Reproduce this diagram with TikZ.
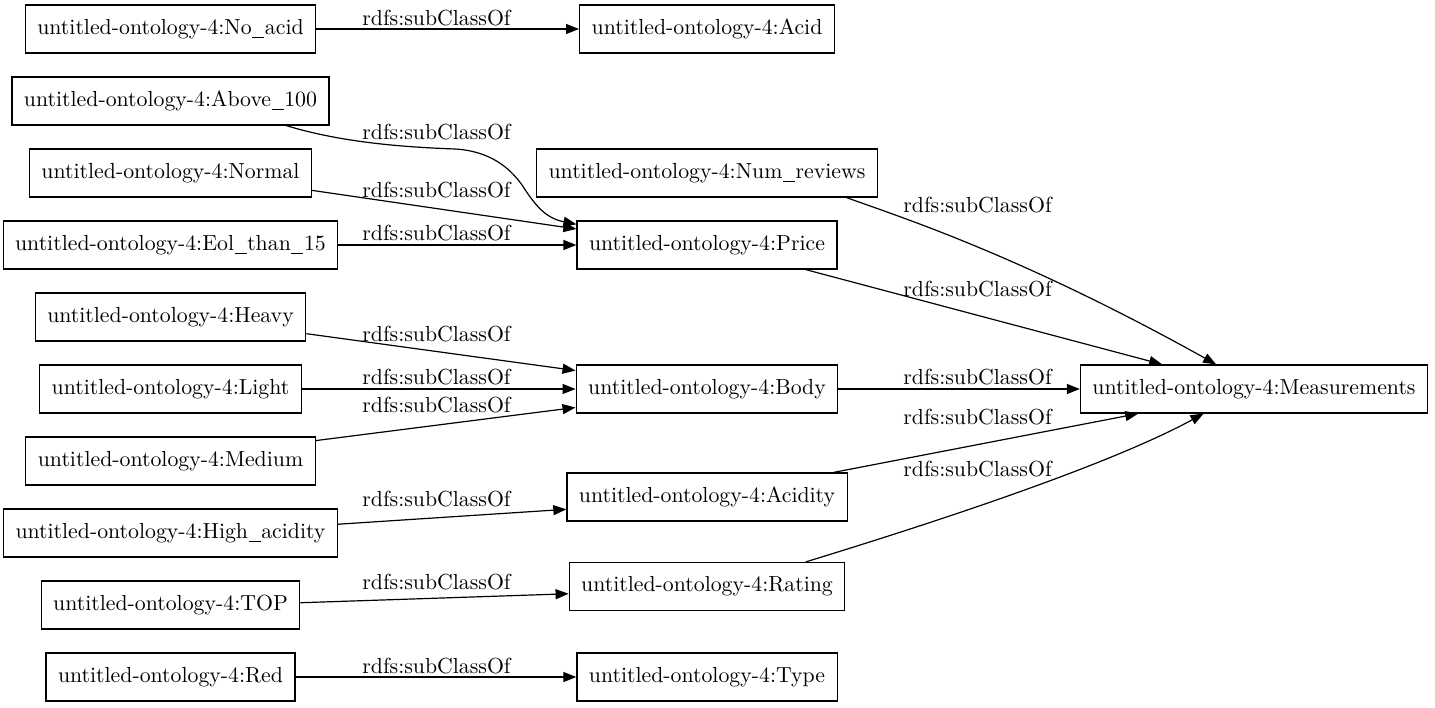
\documentclass[tikz,border=0pt]{standalone}
\usepackage{tikz}
\usetikzlibrary{arrows.meta}
\newcommand{\us}{\kern0.3pt\rule[-1.8pt]{6pt}{0.45pt}\kern0.3pt}

\begin{document}
\begin{tikzpicture}[
    x=0.5pt, y=-0.5pt,
    classbox/.style={draw, line width=0.6pt, minimum height=24pt,
                     inner xsep=6pt, inner ysep=0pt,
                     font=\fontsize{10.9}{13}\selectfont},
    arr/.style={-{Triangle[length=6.5pt, width=5pt]}, line width=0.6pt},
    lbl/.style={font=\fontsize{10.9}{13}\selectfont, inner sep=0pt}
]
\useasboundingbox (0,0) rectangle (1435,707);

% subclasses (left column)
\node[classbox] (noacid) at (170.5,29) {untitled-ontology-4:No\us acid};
\node[classbox] (above) at (170.5,101) {untitled-ontology-4:Above\us 100};
\node[classbox] (normal) at (170.5,173) {untitled-ontology-4:Normal};
\node[classbox] (eol) at (170.5,245) {untitled-ontology-4:Eol\us than\us 15};
\node[classbox] (heavy) at (170.5,317) {untitled-ontology-4:Heavy};
\node[classbox] (light) at (170.5,389) {untitled-ontology-4:Light};
\node[classbox] (medium) at (170.5,461) {untitled-ontology-4:Medium};
\node[classbox] (highac) at (170.5,533) {untitled-ontology-4:High\us acidity};
\node[classbox] (top) at (170.5,605) {untitled-ontology-4:TOP};
\node[classbox] (red) at (170.5,677) {untitled-ontology-4:Red};

% middle column
\node[classbox] (acid) at (707,29) {untitled-ontology-4:Acid};
\node[classbox] (numrev) at (707,173) {untitled-ontology-4:Num\us reviews};
\node[classbox] (price) at (707,245) {untitled-ontology-4:Price};
\node[classbox] (body) at (707,389) {untitled-ontology-4:Body};
\node[classbox] (acidity) at (707,497) {untitled-ontology-4:Acidity};
\node[classbox] (rating) at (707,586.5) {untitled-ontology-4:Rating};
\node[classbox] (type) at (707,677) {untitled-ontology-4:Type};

% root
\node[classbox] (meas) at (1254,389) {untitled-ontology-4:Measurements};

\draw[arr] (noacid.east) -- (acid.west) node[lbl] at (436.5,18) {rdfs:subClassOf};
\draw[arr] (above.-12.5) .. controls (340,142) and (400,147) .. (455,149)
    .. controls (490,151) and (510,168) .. (522,185)
    .. controls (535,205) and (545,218) .. (price.171.5)
    node[lbl] at (436.5,132) {rdfs:subClassOf};
\draw[arr] (normal.-7.9) -- (price.173) node[lbl] at (436.5,190.5) {rdfs:subClassOf};
\draw[arr] (eol.east) -- (price.west) node[lbl] at (436.5,233.5) {rdfs:subClassOf};
\draw[arr] (heavy.-7.6) -- (body.172.1) node[lbl] at (436.5,334) {rdfs:subClassOf};
\draw[arr] (light.east) -- (body.west) node[lbl] at (436.5,377.5) {rdfs:subClassOf};
\draw[arr] (medium.8.3) -- (body.-172.1) node[lbl] at (436.5,405.5) {rdfs:subClassOf};
\draw[arr] (highac.3.8) -- (acidity.-175.9) node[lbl] at (436.5,499) {rdfs:subClassOf};
\draw[arr] (top.1.8) -- (rating.-177.7) node[lbl] at (436.5,582) {rdfs:subClassOf};
\draw[arr] (red.east) -- (type.west) node[lbl] at (436.5,666) {rdfs:subClassOf};

\draw[arr] (numrev.-10.9) .. controls (900,217) and (1020,255) .. (meas.147)
    node[lbl] at (977.5,205.5) {rdfs:subClassOf};
\draw[arr] (price.-14.8) -- (meas.165.7) node[lbl] at (977.5,289) {rdfs:subClassOf};
\draw[arr] (body.east) -- (meas.west) node[lbl] at (977.5,377.5) {rdfs:subClassOf};
\draw[arr] (acidity.11.2) -- (meas.-168.9) node[lbl] at (977.5,417.5) {rdfs:subClassOf};
\draw[arr] (rating.14.2) .. controls (900,533) and (1100,470) .. (meas.-154.8)
    node[lbl] at (977.5,469) {rdfs:subClassOf};
\end{tikzpicture}
\end{document}
